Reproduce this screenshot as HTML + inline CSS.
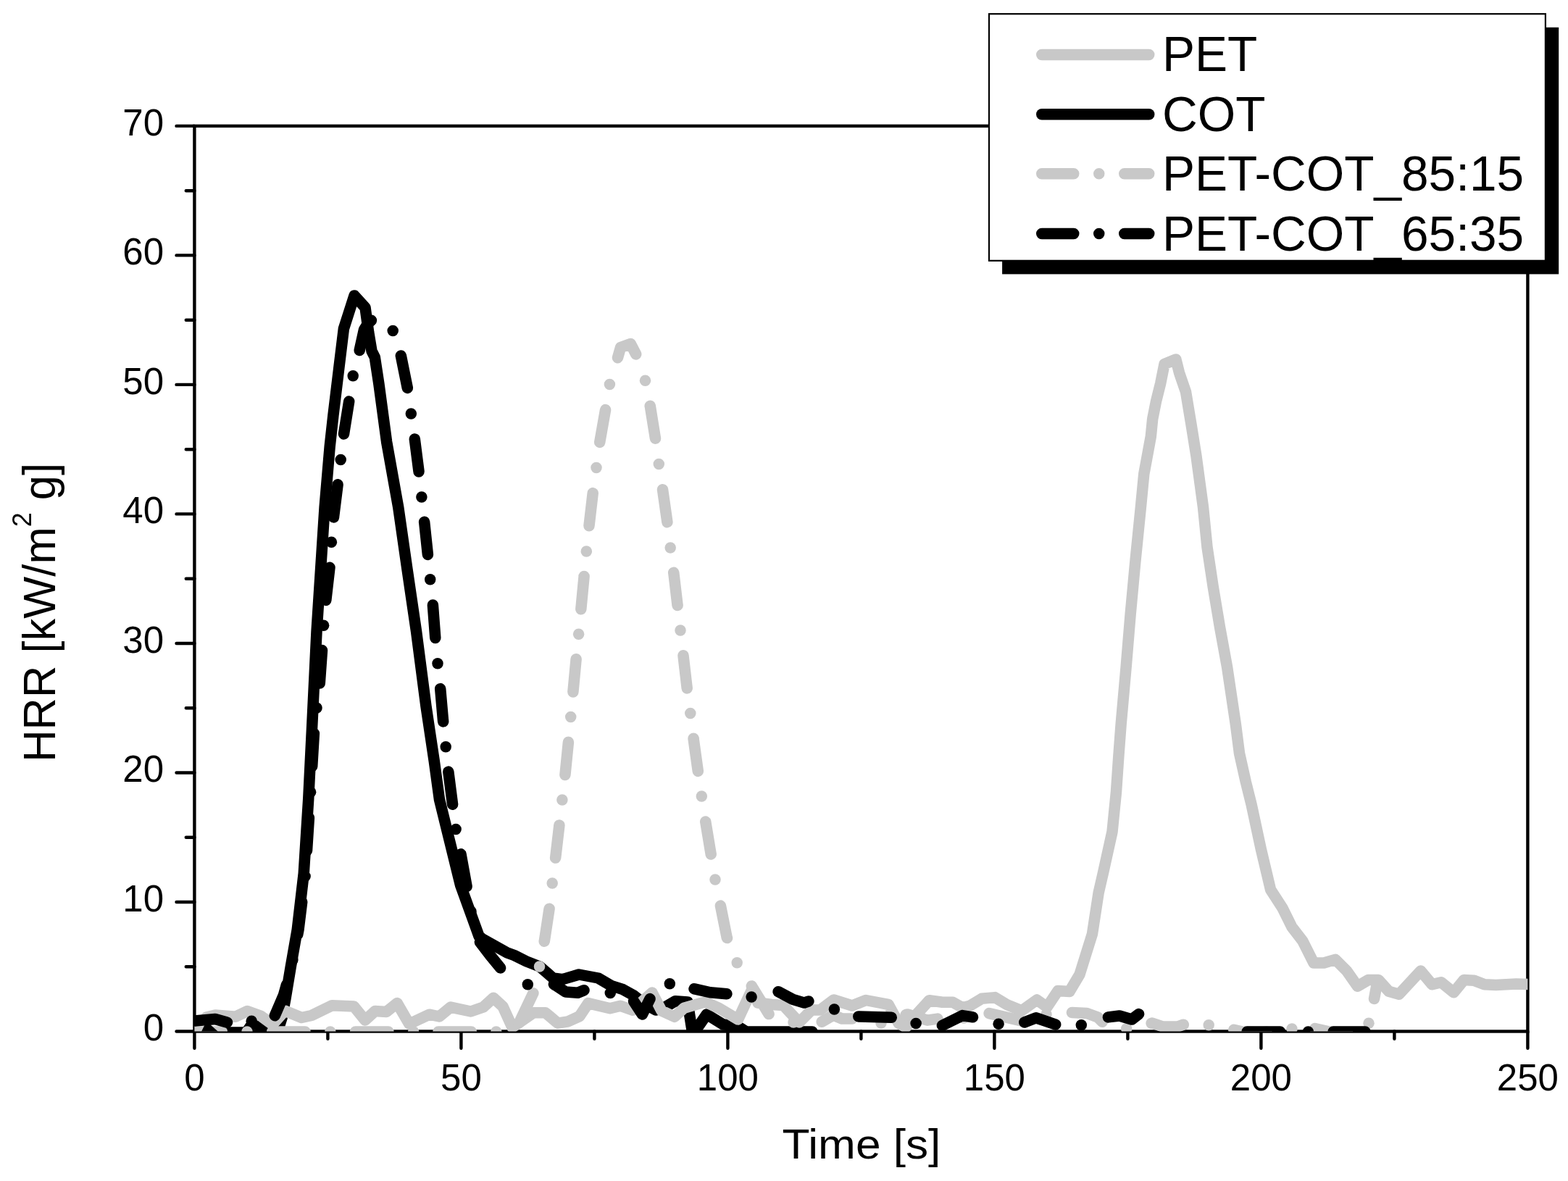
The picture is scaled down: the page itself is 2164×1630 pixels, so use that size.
<!DOCTYPE html>
<html><head><meta charset="utf-8"><title>HRR vs Time</title>
<style>html,body{margin:0;padding:0;background:#fff;}svg{display:block;}
text{font-family:"Liberation Sans",Arial,Helvetica,sans-serif;fill:#000;}</style></head>
<body>
<svg xmlns="http://www.w3.org/2000/svg" width="2164" height="1630" viewBox="0 0 2164 1630">
<rect width="2164" height="1630" fill="#fff"/>
<defs><clipPath id="pc"><rect x="268.4" y="173.9" width="1840.0" height="1249.6"/></clipPath></defs>
<rect x="268.4" y="173.9" width="1840.0" height="1249.6" fill="none" stroke="#000" stroke-width="4.4"/><path d="M243.5,1423.5 L268.4,1423.5 M256.8,1334.2 L268.4,1334.2 M243.5,1245.0 L268.4,1245.0 M256.8,1155.7 L268.4,1155.7 M243.5,1066.5 L268.4,1066.5 M256.8,977.2 L268.4,977.2 M243.5,888.0 L268.4,888.0 M256.8,798.7 L268.4,798.7 M243.5,709.4 L268.4,709.4 M256.8,620.2 L268.4,620.2 M243.5,530.9 L268.4,530.9 M256.8,441.7 L268.4,441.7 M243.5,352.4 L268.4,352.4 M256.8,263.2 L268.4,263.2 M243.5,173.9 L268.4,173.9 M268.4,1423.5 L268.4,1446.7 M452.4,1423.5 L452.4,1433.8 M636.4,1423.5 L636.4,1446.7 M820.4,1423.5 L820.4,1433.8 M1004.4,1423.5 L1004.4,1446.7 M1188.4,1423.5 L1188.4,1433.8 M1372.4,1423.5 L1372.4,1446.7 M1556.4,1423.5 L1556.4,1433.8 M1740.4,1423.5 L1740.4,1446.7 M1924.4,1423.5 L1924.4,1433.8 M2108.4,1423.5 L2108.4,1446.7" stroke="#000" stroke-width="4.4" stroke-linecap="round" fill="none"/>
<g clip-path="url(#pc)" fill="none" stroke-width="15.5" stroke-linecap="round" stroke-linejoin="round">
<path d="M268.4,1425.0 L340.0,1425.0 L350.0,1410.0 L372.0,1428.0 L382.0,1427.0 L389.0,1405.0 L394.0,1378.0 L401.2,1334.8 L410.2,1283.3 L419.2,1206.0 L425.7,1103.0 L430.8,1000.0 L437.0,871.8 L448.1,700.0 L455.2,616.2 L459.9,573.3 L467.7,508.8 L474.4,453.6 L489.0,408.0 L504.0,424.4 L508.7,458.7 L513.0,484.5 L517.3,493.1 L522.9,530.0 L533.6,609.8 L549.7,700.0 L562.0,785.9 L574.6,871.8 L588.0,975.0 L599.2,1050.0 L606.5,1103.7 L635.6,1221.8 L661.0,1292.0 L666.0,1296.0 L700.0,1314.9 L709.7,1318.5 L726.5,1326.9 L745.0,1334.1 L763.3,1350.0 L776.6,1351.6 L799.0,1345.0 L825.7,1350.0 L844.0,1360.7 L859.8,1365.7 L874.8,1374.0 L890.0,1386.0 L905.0,1394.0 L918.0,1390.0 L932.0,1381.7 L948.9,1382.9 L956.0,1428.0 L975.3,1400.0 L998.2,1414.1 L1016.2,1415.3 L1030.0,1424.0 L1121.0,1424.0" stroke="#000"/>
<path d="M284.8,1404.0 L297.0,1401.0 L325.0,1403.3 L341.3,1395.5 L360.0,1402.2 L376.0,1414.0 L393.0,1395.0 L416.2,1404.5 L430.0,1401.5 L458.2,1387.7 L488.3,1388.9 L503.9,1408.1 L517.6,1395.6 L533.3,1396.5 L548.1,1384.5 L564.7,1413.2 L592.4,1400.2 L606.3,1403.0 L622.0,1390.1 L649.7,1396.0 L667.0,1390.0 L681.0,1377.2 L694.0,1389.2 L707.0,1418.0 L736.1,1397.8 L752.9,1397.8 L769.8,1412.2 L784.2,1409.8 L799.8,1402.6 L811.8,1384.6 L841.8,1391.8 L856.3,1388.2 L873.1,1394.2 L900.0,1370.0 L912.9,1394.9 L930.9,1403.3 L944.1,1391.3 L972.9,1382.9 L992.2,1391.3 L1018.6,1407.0 L1038.6,1364.0 L1046.0,1384.0 L1065.0,1386.5 L1081.0,1387.5 L1103.0,1411.0 L1120.0,1394.0 L1132.0,1394.0 L1150.6,1380.0 L1176.0,1388.0 L1195.0,1380.5 L1226.0,1386.3 L1240.0,1412.0 L1250.0,1418.0 L1264.9,1400.0 L1282.4,1380.8 L1300.7,1383.3 L1314.9,1383.3 L1328.2,1390.7 L1338.2,1388.3 L1354.8,1378.3 L1373.1,1376.6 L1389.7,1386.6 L1410.0,1395.0 L1431.0,1380.0 L1445.0,1390.0 L1460.0,1367.5 L1476.0,1368.5 L1490.0,1345.0 L1507.4,1289.3 L1516.2,1231.9 L1522.8,1203.2 L1535.0,1148.0 L1540.5,1092.8 L1543.8,1044.2 L1547.1,1000.0 L1554.1,920.9 L1560.2,847.2 L1567.0,773.6 L1574.4,700.0 L1578.8,654.0 L1588.3,602.5 L1590.7,578.2 L1595.6,553.6 L1601.7,529.1 L1607.0,502.5 L1622.9,496.0 L1627.4,514.2 L1636.5,540.7 L1644.3,587.8 L1650.9,629.0 L1660.5,700.0 L1666.0,755.2 L1674.3,810.4 L1683.5,865.6 L1693.6,920.9 L1705.4,1000.0 L1710.5,1039.8 L1719.4,1079.5 L1727.1,1110.4 L1740.4,1172.3 L1753.6,1228.0 L1769.8,1253.0 L1783.0,1279.6 L1797.8,1298.7 L1813.0,1329.0 L1827.1,1329.0 L1842.8,1324.3 L1858.6,1340.0 L1873.5,1361.2 L1888.4,1352.5 L1902.5,1352.5 L1916.7,1368.3 L1930.8,1372.2 L1960.7,1340.0 L1976.4,1358.8 L1989.0,1355.7 L2006.2,1369.8 L2020.4,1352.5 L2034.5,1353.3 L2048.7,1358.8 L2064.4,1359.6 L2092.6,1358.0 L2115.0,1358.8" stroke="#c8c8c8"/>
<path d="M268.4,1424.0 L306.4,1424.0 M375.6,1424.0 L421.1,1424.0 M490.5,1424.0 L536.0,1424.0 M604.9,1424.0 L650.4,1424.0 M716.4,1411.8 L735.9,1370.7 M751.2,1299.2 L751.4,1298.4 L758.1,1254.2 M766.6,1184.1 L766.7,1183.5 L771.9,1138.9 M779.9,1069.5 L784.4,1024.5 L784.4,1024.2 M790.9,955.0 L790.9,954.7 L795.1,909.7 M801.8,840.7 L801.9,839.6 L806.1,795.5 L806.1,795.4 M813.0,725.8 L813.0,725.5 L818.2,680.6 M827.7,610.4 L835.6,565.6 M852.5,493.7 L856.5,479.6 L870.3,474.5 L877.7,488.9 M897.2,560.3 L897.3,560.6 L904.5,605.2 M914.5,675.7 L920.9,720.7 L920.9,720.7 M929.7,790.3 L929.8,790.9 L935.0,835.0 L935.1,835.5 M943.0,904.7 L943.1,905.9 L948.2,949.9 M957.1,1019.3 L957.1,1019.6 L963.3,1064.4 M973.7,1134.1 L973.8,1134.5 L981.1,1178.6 L981.2,1179.0 M994.4,1250.1 L1003.1,1293.5 L1003.5,1294.6 M1037.3,1360.9 L1038.6,1363.0 L1061.1,1399.6 M1134.2,1410.3 L1150.0,1401.0 L1162.0,1406.0 L1176.1,1406.0 M1250.1,1400.7 L1252.5,1399.9 L1279.9,1408.2 L1294.1,1406.1 M1365.1,1398.6 L1409.4,1408.9 M1479.4,1397.5 L1500.0,1398.5 L1515.0,1404.0 L1521.3,1410.3 M1589.1,1412.2 L1590.0,1412.0 L1605.0,1417.0 L1625.0,1417.0 L1633.3,1414.2 M1702.8,1421.3 L1715.0,1424.0 L1740.0,1425.0 L1748.0,1424.1 M1814.8,1419.6 L1835.0,1424.0 L1859.8,1425.0 M1896.5,1378.5 L1901.0,1354.1" stroke="#c8c8c8"/>
<circle cx="341.0" cy="1424.0" r="7.75" fill="#c8c8c8" stroke="none"/><circle cx="455.8" cy="1424.0" r="7.75" fill="#c8c8c8" stroke="none"/><circle cx="570.6" cy="1424.0" r="7.75" fill="#c8c8c8" stroke="none"/><circle cx="684.8" cy="1424.0" r="7.75" fill="#c8c8c8" stroke="none"/><circle cx="744.5" cy="1334.1" r="7.75" fill="#c8c8c8" stroke="none"/><circle cx="762.2" cy="1218.9" r="7.75" fill="#c8c8c8" stroke="none"/><circle cx="775.9" cy="1104.0" r="7.75" fill="#c8c8c8" stroke="none"/><circle cx="787.7" cy="989.6" r="7.75" fill="#c8c8c8" stroke="none"/><circle cx="798.6" cy="875.2" r="7.75" fill="#c8c8c8" stroke="none"/><circle cx="809.3" cy="760.9" r="7.75" fill="#c8c8c8" stroke="none"/><circle cx="823.0" cy="645.6" r="7.75" fill="#c8c8c8" stroke="none"/><circle cx="841.4" cy="530.6" r="7.75" fill="#c8c8c8" stroke="none"/><circle cx="890.5" cy="525.2" r="7.75" fill="#c8c8c8" stroke="none"/><circle cx="909.3" cy="640.6" r="7.75" fill="#c8c8c8" stroke="none"/><circle cx="925.2" cy="755.9" r="7.75" fill="#c8c8c8" stroke="none"/><circle cx="939.0" cy="870.0" r="7.75" fill="#c8c8c8" stroke="none"/><circle cx="952.8" cy="984.5" r="7.75" fill="#c8c8c8" stroke="none"/><circle cx="968.3" cy="1099.1" r="7.75" fill="#c8c8c8" stroke="none"/><circle cx="987.0" cy="1214.0" r="7.75" fill="#c8c8c8" stroke="none"/><circle cx="1017.2" cy="1328.8" r="7.75" fill="#c8c8c8" stroke="none"/><circle cx="1095.0" cy="1411.0" r="7.75" fill="#c8c8c8" stroke="none"/><circle cx="1216.0" cy="1412.0" r="7.75" fill="#c8c8c8" stroke="none"/><circle cx="1330.0" cy="1405.0" r="7.75" fill="#c8c8c8" stroke="none"/><circle cx="1444.0" cy="1400.0" r="7.75" fill="#c8c8c8" stroke="none"/><circle cx="1554.7" cy="1419.8" r="7.75" fill="#c8c8c8" stroke="none"/><circle cx="1668.2" cy="1414.8" r="7.75" fill="#c8c8c8" stroke="none"/><circle cx="1783.0" cy="1420.0" r="7.75" fill="#c8c8c8" stroke="none"/><circle cx="1889.0" cy="1412.3" r="7.75" fill="#c8c8c8" stroke="none"/>
<path d="M268.7,1409.0 L297.0,1406.5 L313.0,1411.0 L313.5,1411.1 M379.3,1401.7 L391.5,1373.4 L395.4,1359.2 M410.7,1289.9 L412.0,1283.3 L416.7,1244.8 M423.5,1174.1 L426.4,1128.7 M430.7,1057.8 L433.4,1012.3 M441.3,942.9 L441.3,942.6 L444.5,897.5 M449.8,828.4 L455.0,783.2 M460.5,713.9 L460.6,712.9 L466.1,668.8 M474.5,599.0 L474.5,599.0 L481.7,554.1 M496.2,483.5 L502.5,455.0 L508.0,446.0 L512.4,442.3 M553.3,490.9 L553.4,491.3 L562.3,535.4 M572.3,605.9 L578.0,650.6 L578.0,651.0 M585.6,720.3 L585.7,721.0 L590.4,765.5 M597.4,835.1 L597.4,835.3 L600.8,880.4 L600.8,880.5 M607.7,950.6 L611.5,994.2 L611.7,995.9 M618.8,1065.1 L624.6,1110.2 M636.0,1178.8 L644.1,1223.5 M662.4,1300.2 L676.0,1318.0 L690.6,1335.9 M764.4,1358.4 L780.6,1369.0 L797.4,1370.2 L806.0,1366.7 M874.6,1381.9 L886.4,1400.0 L897.0,1378.6 M958.0,1364.8 L958.5,1364.9 L980.2,1369.7 L1002.9,1371.7 M1074.1,1368.7 L1094.3,1379.3 L1110.0,1384.1 L1115.9,1381.9 M1184.8,1402.9 L1230.3,1404.3 M1300.4,1415.4 L1328.2,1401.6 L1342.5,1403.8 M1413.8,1410.9 L1430.0,1404.8 L1456.7,1414.0 M1529.4,1403.9 L1545.0,1402.0 L1562.0,1407.0 L1571.6,1399.6 M1608.1,1450.2 L1653.4,1446.2 M1721.1,1424.0 L1766.6,1424.0 M1840.1,1424.0 L1884.0,1424.0" stroke="#000"/>
<circle cx="347.2" cy="1409.2" r="7.75" fill="#000" stroke="none"/><circle cx="403.9" cy="1324.8" r="7.75" fill="#000" stroke="none"/><circle cx="421.1" cy="1209.5" r="7.75" fill="#000" stroke="none"/><circle cx="428.6" cy="1093.2" r="7.75" fill="#000" stroke="none"/><circle cx="437.0" cy="977.0" r="7.75" fill="#000" stroke="none"/><circle cx="446.6" cy="863.2" r="7.75" fill="#000" stroke="none"/><circle cx="457.4" cy="748.3" r="7.75" fill="#000" stroke="none"/><circle cx="470.2" cy="634.5" r="7.75" fill="#000" stroke="none"/><circle cx="487.2" cy="518.8" r="7.75" fill="#000" stroke="none"/><circle cx="542.2" cy="456.6" r="7.75" fill="#000" stroke="none"/><circle cx="567.3" cy="571.1" r="7.75" fill="#000" stroke="none"/><circle cx="581.9" cy="686.0" r="7.75" fill="#000" stroke="none"/><circle cx="593.7" cy="799.8" r="7.75" fill="#000" stroke="none"/><circle cx="604.0" cy="915.8" r="7.75" fill="#000" stroke="none"/><circle cx="615.2" cy="1030.7" r="7.75" fill="#000" stroke="none"/><circle cx="629.1" cy="1144.5" r="7.75" fill="#000" stroke="none"/><circle cx="650.0" cy="1258.0" r="7.75" fill="#000" stroke="none"/><circle cx="728.3" cy="1358.7" r="7.75" fill="#000" stroke="none"/><circle cx="842.3" cy="1370.5" r="7.75" fill="#000" stroke="none"/><circle cx="924.3" cy="1357.7" r="7.75" fill="#000" stroke="none"/><circle cx="1037.1" cy="1375.9" r="7.75" fill="#000" stroke="none"/><circle cx="1151.4" cy="1392.9" r="7.75" fill="#000" stroke="none"/><circle cx="1264.1" cy="1412.4" r="7.75" fill="#000" stroke="none"/><circle cx="1378.1" cy="1413.2" r="7.75" fill="#000" stroke="none"/><circle cx="1492.3" cy="1414.8" r="7.75" fill="#000" stroke="none"/><circle cx="1582.7" cy="1434.2" r="7.75" fill="#000" stroke="none"/><circle cx="1692.1" cy="1442.7" r="7.75" fill="#000" stroke="none"/><circle cx="1805.4" cy="1424.0" r="7.75" fill="#000" stroke="none"/>
<path d="M283.2,1413 L289,1413 L301.2,1424 L277.9,1424 Z" fill="#000" stroke="none"/>
</g>
<g font-size="51">
<text x="226" y="1436.1" text-anchor="end">0</text><text x="226" y="1257.6" text-anchor="end">10</text><text x="226" y="1079.1" text-anchor="end">20</text><text x="226" y="900.6" text-anchor="end">30</text><text x="226" y="722.0" text-anchor="end">40</text><text x="226" y="543.5" text-anchor="end">50</text><text x="226" y="365.0" text-anchor="end">60</text><text x="226" y="186.5" text-anchor="end">70</text><text x="268.4" y="1504.5" text-anchor="middle">0</text><text x="636.4" y="1504.5" text-anchor="middle">50</text><text x="1004.4" y="1504.5" text-anchor="middle">100</text><text x="1372.4" y="1504.5" text-anchor="middle">150</text><text x="1740.4" y="1504.5" text-anchor="middle">200</text><text x="2108.4" y="1504.5" text-anchor="middle">250</text>
</g>
<text x="1079.6" y="1599.3" font-size="58" textLength="218.8" lengthAdjust="spacingAndGlyphs">Time [s]</text>
<text transform="translate(76.3,845.4) rotate(-90)" font-size="63.4" text-anchor="middle" textLength="412.8" lengthAdjust="spacingAndGlyphs">HRR [kW/m<tspan font-size="37" dy="-33.6">2</tspan><tspan dy="33.6"> g]</tspan></text>
<rect x="1383.1" y="37.8" width="768.1" height="340.6" fill="#000"/>
<rect x="1365" y="19.2" width="767.9" height="340.6" fill="#fff" stroke="#000" stroke-width="2.2"/>
<g fill="none" stroke-width="15.5" stroke-linecap="round">
<path d="M1437.75,75.5 L1585.75,75.5" stroke="#c8c8c8"/>
<path d="M1437.75,157.7 L1585.75,157.7" stroke="#000"/>
<path d="M1437.75,239.7 L1585.75,239.7" stroke="#c8c8c8" stroke-dasharray="44 35 0 35"/>
<path d="M1437.75,322.5 L1585.75,322.5" stroke="#000" stroke-dasharray="44 35 0 35"/>
</g>
<g font-size="69">
<text x="1604" y="98" textLength="131.3" lengthAdjust="spacingAndGlyphs">PET</text>
<text x="1604" y="181" textLength="142.5" lengthAdjust="spacingAndGlyphs">COT</text>
<text x="1604" y="263" textLength="499" lengthAdjust="spacingAndGlyphs">PET-COT_85:15</text>
<text x="1604" y="346.1" textLength="499" lengthAdjust="spacingAndGlyphs">PET-COT_65:35</text>
</g>
</svg>
</body></html>
